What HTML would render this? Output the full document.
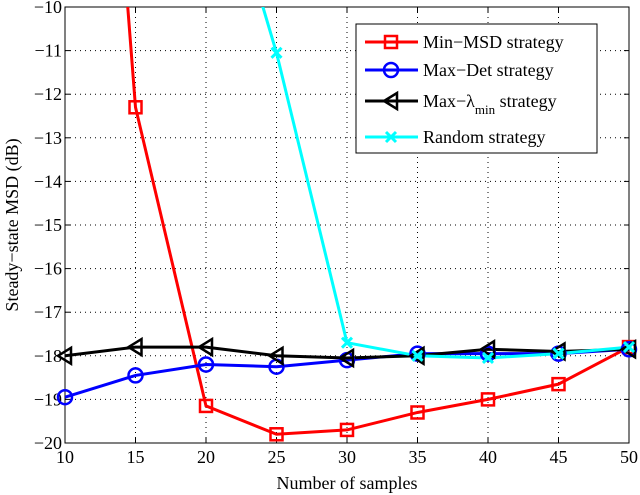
<!DOCTYPE html>
<html><head><meta charset="utf-8"><style>
html,body{margin:0;padding:0;background:#fff;}
svg{display:block;font-family:"Liberation Serif",serif;}
</style></head><body>
<svg id="chart" width="640" height="495">
<defs><clipPath id="clip"><rect x="65" y="7" width="564" height="436"/></clipPath></defs>
<g id="grid"></g>
<g id="axes"></g>
<g id="series" clip-path="url(#clip)"></g>
<g id="markers"></g>
<text x="347" y="489" text-anchor="middle" font-size="18">Number of samples</text>
<text transform="translate(18,225) rotate(-90)" text-anchor="middle" font-size="18">Steady−state MSD (dB)</text>
<g>
<rect x="356" y="24" width="241" height="129" fill="#fff" stroke="#000" stroke-width="1"/>
<line x1="365" y1="42" x2="418" y2="42" stroke="#f00" stroke-width="3"/><rect x="385" y="36" width="12" height="12" fill="none" stroke="#f00" stroke-width="2.5"/>
<text x="423" y="48" font-size="18">Min−MSD strategy</text>
<line x1="365" y1="70" x2="418" y2="70" stroke="#00f" stroke-width="3"/><circle cx="391" cy="70" r="7" fill="none" stroke="#00f" stroke-width="2.5"/>
<text x="423" y="76" font-size="18">Max−Det strategy</text>
<line x1="365" y1="101" x2="418" y2="101" stroke="#000" stroke-width="3"/><polygon points="384,101 397,93 397,109" fill="none" stroke="#000" stroke-width="2.5"/>
<text x="423" y="107" font-size="18">Max−λ<tspan font-size="13" dy="7">min</tspan><tspan dy="-7"> strategy</tspan></text>
<line x1="365" y1="137" x2="418" y2="137" stroke="#0ff" stroke-width="3"/><path d="M386,132 L396,142 M396,132 L386,142" stroke="#0ff" stroke-width="3"/>
<text x="423" y="143" font-size="18">Random strategy</text>
</g>
</svg>
<script>
const xs=[10,15,20,25,30,35,40,45,50];
const minMsd=[8.6,-12.3,-19.15,-19.8,-19.7,-19.3,-19.0,-18.65,-17.8];
const maxDet=[-18.95,-18.45,-18.2,-18.25,-18.1,-17.95,-17.95,-17.95,-17.85];
const maxLambda=[-18.0,-17.8,-17.8,-18.0,-18.05,-18.0,-17.85,-17.9,-17.85];
const random=[null,null,-5.6,-11.05,-17.7,-18.0,-18.05,-17.95,-17.8];
const xTicks=[10,15,20,25,30,35,40,45,50];
const yTicks=[-10,-11,-12,-13,-14,-15,-16,-17,-18,-19,-20];
const X0=65,X1=629,Y0=7,Y1=443;
const sx=v=>X0+(v-10)/40*(X1-X0);
const sy=v=>Y0+(-10-v)/10*(Y1-Y0);
const NS="http://www.w3.org/2000/svg";
function mk(t,a,p){const e=document.createElementNS(NS,t);for(const k in a)e.setAttribute(k,a[k]);p.appendChild(e);return e;}
const grid=document.getElementById('grid'),axes=document.getElementById('axes');
xTicks.forEach(t=>{const x=sx(t);
 if(t>10&&t<50){const l=mk('line',{x1:x,y1:Y0,x2:x,y2:Y1,stroke:'#000','stroke-width':1,'stroke-dasharray':'1,4'},grid);}
 mk('line',{x1:x,y1:Y1,x2:x,y2:Y1-5,stroke:'#000'},axes);mk('line',{x1:x,y1:Y0,x2:x,y2:Y0+5,stroke:'#000'},axes);
 const tx=mk('text',{x:x,y:Y1+20,'text-anchor':'middle','font-size':18},axes);tx.textContent=t;
 });
yTicks.forEach(t=>{const y=sy(t);
 if(t>-20&&t<-10){const l=mk('line',{x1:X0,y1:y,x2:X1,y2:y,stroke:'#000','stroke-width':1,'stroke-dasharray':'1,4'},grid);}
 mk('line',{x1:X0,y1:y,x2:X0+5,y2:y,stroke:'#000'},axes);mk('line',{x1:X1,y1:y,x2:X1-5,y2:y,stroke:'#000'},axes);
 const tx=mk('text',{x:X0-3,y:y+6,'text-anchor':'end','font-size':18},axes);tx.textContent=String(t).replace('-','−');
 });
mk('rect',{x:X0,y:Y0,width:X1-X0,height:Y1-Y0,fill:'none',stroke:'#000'},axes);
const ser=document.getElementById('series'),mkr=document.getElementById('markers');
function draw(vals,color,name,shape){
 const pts=[];vals.forEach((v,i)=>{if(v!==null)pts.push([sx(xs[i]),sy(v)]);});
 const pl=mk('polyline',{points:pts.map(p=>p.join(',')).join(' '),fill:'none',stroke:color,'stroke-width':3},ser);
 
 pts.forEach(([x,y])=>{if(y<Y0-1||y>Y1+1)return;let m;
  if(shape==='sq')m=mk('rect',{x:x-6,y:y-6,width:12,height:12,fill:'none',stroke:color,'stroke-width':2.5},mkr);
  else if(shape==='ci')m=mk('circle',{cx:x,cy:y,r:7,fill:'none',stroke:color,'stroke-width':2.5},mkr);
  else if(shape==='tr')m=mk('polygon',{points:`${x-7},${y} ${x+6},${y-8} ${x+6},${y+8}`,fill:'none',stroke:color,'stroke-width':2.5},mkr);
  else m=mk('path',{d:`M${x-5},${y-5}L${x+5},${y+5}M${x+5},${y-5}L${x-5},${y+5}`,stroke:color,'stroke-width':3},mkr);
  });
}
draw(minMsd,'#f00','min-msd','sq');
draw(maxDet,'#00f','max-det','ci');
draw(maxLambda,'#000','max-lambda','tr');
draw(random,'#0ff','random','x');
</script>
</body></html>
